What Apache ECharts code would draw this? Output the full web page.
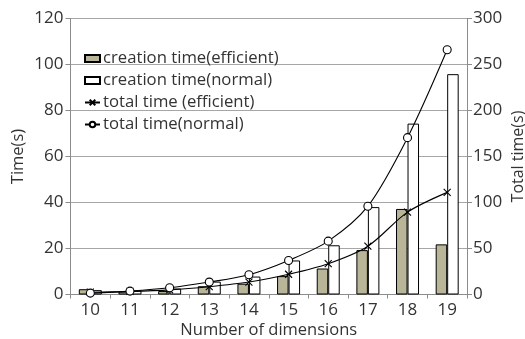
<!DOCTYPE html>
<html>
<head>
<meta charset="utf-8">
<script src="https://cdn.jsdelivr.net/npm/echarts@6/dist/echarts.min.js"></script>
<style>
  html, body { margin: 0; padding: 0; background: #fff; }
  #chart { width: 525px; height: 339px; }
</style>
</head>
<body>
<div id="chart"></div>
<script>
// Number of dimensions on the x axis
var dimensions = ['10', '11', '12', '13', '14', '15', '16', '17', '18', '19'];

// Creation time in seconds (left axis)
var creationEfficient = [2.3, 1.3, 1.5, 3.6, 4.7, 8.0, 11.3, 19.3, 37.2, 21.8];
var creationNormal = [1.9, 1.7, 2.6, 5.6, 7.8, 14.8, 21.4, 38.0, 74.3, 95.8];

// Total time in seconds (right axis)
var totalEfficient = [2.5, 3.3, 5.0, 8.5, 13.5, 22.0, 33.5, 52.5, 89.5, 111.0];
var totalNormal = [1.5, 3.7, 7.3, 13.5, 21.5, 37.0, 58.0, 96.0, 170.5, 266.0];

var FONT = '"Open Sans", sans-serif';
var TEXT = '#333';
var AXIS = '#8c8c8c';
var crossSymbol = 'path://M0,0L10,10M10,0L0,10';

var chart = echarts.init(document.getElementById('chart'));
chart.setOption({
  animation: false,
  textStyle: { fontFamily: FONT, color: TEXT },
  grid: { left: 70.5, right: 58, top: 18.5, bottom: 44.5, outerBoundsMode: 'none', containLabel: false },
  legend: {
    orient: 'vertical',
    left: 79,
    top: 45,
    itemGap: 5,
    itemWidth: 15,
    itemHeight: 7,
    textStyle: { fontFamily: FONT, fontSize: 16.7, color: TEXT, padding: [0, 0, 0, -2] },
    data: [
      { name: 'creation time(efficient)', icon: 'rect' },
      { name: 'creation time(normal)', icon: 'rect' },
      'total time (efficient)',
      'total time(normal)'
    ]
  },
  xAxis: {
    type: 'category',
    data: dimensions,
    boundaryGap: true,
    name: 'Number of dimensions',
    nameLocation: 'middle',
    nameGap: 27,
    nameMoveOverlap: false,
    nameTextStyle: { fontFamily: FONT, fontSize: 16.5, color: TEXT },
    axisLine: { lineStyle: { color: AXIS } },
    axisTick: { show: true, length: 4, lineStyle: { color: AXIS } },
    axisLabel: { fontFamily: FONT, fontSize: 17, color: TEXT, margin: 7 }
  },
  yAxis: [
    {
      type: 'value',
      min: 0, max: 120, interval: 20,
      name: 'Time(s)',
      nameLocation: 'middle',
      nameGap: 44,
      nameMoveOverlap: false,
      nameTextStyle: { fontFamily: FONT, fontSize: 16.5, color: TEXT },
      axisLine: { show: true, lineStyle: { color: AXIS } },
      axisTick: { show: true, length: 5, lineStyle: { color: AXIS } },
      axisLabel: { fontFamily: FONT, fontSize: 17, color: TEXT, margin: 7 },
      splitLine: { show: true, lineStyle: { color: '#a6a6a6', width: 1 } }
    },
    {
      type: 'value',
      min: 0, max: 300, interval: 50,
      name: 'Total time(s)',
      nameLocation: 'middle',
      nameGap: 43,
      nameMoveOverlap: false,
      nameTextStyle: { fontFamily: FONT, fontSize: 16, color: TEXT },
      axisLine: { show: true, lineStyle: { color: AXIS } },
      axisTick: { show: true, length: 5, lineStyle: { color: AXIS } },
      axisLabel: { fontFamily: FONT, fontSize: 17, color: TEXT, margin: 6 },
      splitLine: { show: false }
    }
  ],
  series: [
    {
      name: 'creation time(efficient)',
      type: 'bar',
      yAxisIndex: 0,
      data: creationEfficient,
      barWidth: 11.5,
      barGap: '0%',
      itemStyle: { color: '#b9b598', borderColor: '#000', borderWidth: 1 }
    },
    {
      name: 'creation time(normal)',
      type: 'bar',
      yAxisIndex: 0,
      data: creationNormal,
      barWidth: 11.5,
      barGap: '0%',
      itemStyle: { color: '#fff', borderColor: '#000', borderWidth: 1 }
    },
    {
      name: 'total time (efficient)',
      type: 'line',
      yAxisIndex: 1,
      data: totalEfficient,
      smooth: 0.3,
      symbol: crossSymbol,
      symbolSize: 7,
      lineStyle: { color: '#000', width: 1.1 },
      itemStyle: { color: '#000', borderColor: '#000', borderWidth: 1.1 }
    },
    {
      name: 'total time(normal)',
      type: 'line',
      yAxisIndex: 1,
      data: totalNormal,
      smooth: 0.3,
      symbol: 'circle',
      symbolSize: 8,
      lineStyle: { color: '#000', width: 1.1 },
      itemStyle: { color: '#fff', borderColor: '#000', borderWidth: 1.1 }
    }
  ]
});
</script>
</body>
</html>
